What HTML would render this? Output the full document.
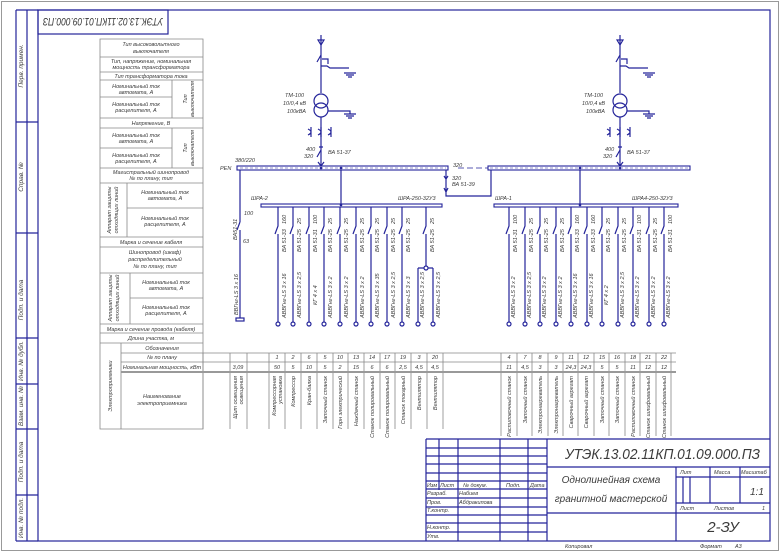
<!DOCTYPE html>
<html><head><meta charset="utf-8"><style>
html,body{margin:0;padding:0;background:#fff;}
svg{display:block;}
text{font-family:"Liberation Sans",sans-serif;font-style:italic;fill:#3a3a3a;}
.b{stroke:#24249a;fill:none;stroke-width:1.2;}
.g{stroke:#888;fill:none;stroke-width:0.8;}
.s{font-size:5.5px;}
.m{font-size:6.5px;}
</style></head><body>
<svg width="780" height="552" viewBox="0 0 780 552" xmlns="http://www.w3.org/2000/svg">
<rect x="1.5" y="1.5" width="777" height="549" fill="none" stroke="#999" stroke-width="1"/>
<rect x="38" y="10" width="732" height="531" class="b"/>
<path class="b" d="M16 10V233M27 10V233M16 10H38M16 122H38M16 233H38M16 233V541M27 233V541M16 338H38M16 384H38M16 429H38M16 495H38M16 541H38"/>
<g class="m">
<text transform="rotate(-90 23 66)" x="23" y="66" text-anchor="middle">Перв. примен.</text>
<text transform="rotate(-90 23 177)" x="23" y="177" text-anchor="middle">Справ. №</text>
<text transform="rotate(-90 23 300)" x="23" y="300" text-anchor="middle">Подп. и дата</text>
<text transform="rotate(-90 23 361)" x="23" y="361" text-anchor="middle">Инв. № дубл.</text>
<text transform="rotate(-90 23 406)" x="23" y="406" text-anchor="middle">Взам. инв. №</text>
<text transform="rotate(-90 23 462)" x="23" y="462" text-anchor="middle">Подп. и дата</text>
<text transform="rotate(-90 23 518)" x="23" y="518" text-anchor="middle">Инв. № подл.</text>
</g>
<rect x="38" y="10" width="130" height="24" class="b"/>
<text transform="rotate(180 103 22)" x="103" y="26" text-anchor="middle" font-size="11" textLength="120" lengthAdjust="spacingAndGlyphs">УТЭК.13.02.11КП.01.09.000.ПЗ</text>

<g class="g">
<path d="M100 39H203V429H100Z"/>
<path d="M100 57H203M100 72H203M100 80H203M100 97H172M100 118H203M100 128H203M100 148H172M100 168H203M100 183H203M127 208H203M100 237H203M100 247H203M100 273H203M130 298H203M100 324H203M100 333H203M100 343H203M121 353H676M121 362H676"/>
<path d="M172 80V118M172 128V168M127 183V237M130 273V324M121 343V429"/>
<path d="M203 353V429M230 353V429M247 353V429M269 353V429M285 353V429M301 353V429M317 353V429M333 353V429M348 353V429M364 353V429M380 353V429M395 353V429M411 353V429M427 353V429M443 353V429M501 353V436M517 353V436M532 353V436M548 353V436M563 353V436M578 353V436M594 353V436M609 353V436M625 353V436M640 353V436M656 353V436M671 353V436"/>
</g>
<path d="M121 372H676" stroke="#999" stroke-width="2"/>
<g class="s" text-anchor="middle">
<text x="151" y="46">Тип высоковольтного</text><text x="151" y="53">выключателя</text>
<text x="151" y="63">Тип, напряжение, номинальная</text><text x="151" y="69">мощность трансформатора</text>
<text x="151" y="78">Тип трансформатора тока</text>
<text x="136" y="88">Номинальный ток</text><text x="136" y="94">автомата, А</text>
<text x="136" y="106">Номинальный ток</text><text x="136" y="112">расцепителя, А</text>
<text x="151" y="125">Напряжение, В</text>
<text x="136" y="137">Номинальный ток</text><text x="136" y="143">автомата, А</text>
<text x="136" y="157">Номинальный ток</text><text x="136" y="163">расцепителя, А</text>
<text transform="rotate(-90 187 99)" x="187" y="99">Тип</text><text transform="rotate(-90 194 99)" x="194" y="99">выключателя</text>
<text transform="rotate(-90 187 148)" x="187" y="148">Тип</text><text transform="rotate(-90 194 148)" x="194" y="148">выключателя</text>
<text x="151" y="174">Магистральный шинопровод</text><text x="151" y="180">№ по плану, тип</text>
<text x="165" y="194">Номинальный ток</text><text x="165" y="200">автомата, А</text>
<text x="165" y="220">Номинальный ток</text><text x="165" y="226">расцепителя, А</text>
<text transform="rotate(-90 111 210)" x="111" y="210">Аппарат защиты</text><text transform="rotate(-90 118 210)" x="118" y="210">отходящих линий</text>
<text x="151" y="244">Марка и сечение кабеля</text>
<text x="155" y="254">Шинопровод (шкаф)</text><text x="155" y="261">распределительный</text><text x="155" y="268">№ по плану, тип</text>
<text x="166" y="284">Номинальный ток</text><text x="166" y="290">автомата, А</text>
<text x="166" y="309">Номинальный ток</text><text x="166" y="315">расцепителя, А</text>
<text transform="rotate(-90 112 298)" x="112" y="298">Аппарат защиты</text><text transform="rotate(-90 119 298)" x="119" y="298">отходящих линий</text>
<text x="151" y="331">Марка и сечение провода (кабеля)</text>
<text x="151" y="340">Длина участка, м</text>
<text x="162" y="350">Обозначения</text>
<text x="162" y="359">№ по плану</text>
<text x="162" y="369">Номинальная мощность, кВт</text>
<text x="162" y="398">Наименование</text><text x="162" y="405">электроприемника</text>
<text transform="rotate(-90 112 386)" x="112" y="386">Электроприемники</text>
</g>
<g class="s" text-anchor="middle">
<text x="277" y="359">1</text><text x="293" y="359">2</text><text x="309" y="359">6</text><text x="325" y="359">5</text><text x="340" y="359">10</text><text x="356" y="359">13</text><text x="372" y="359">14</text><text x="387" y="359">17</text><text x="403" y="359">19</text><text x="419" y="359">3</text><text x="435" y="359">20</text>
<text x="238" y="369">3,09</text>
<text x="277" y="369">50</text><text x="293" y="369">5</text><text x="309" y="369">10</text><text x="325" y="369">5</text><text x="340" y="369">2</text><text x="356" y="369">15</text><text x="372" y="369">6</text><text x="387" y="369">6</text><text x="403" y="369">2,5</text><text x="419" y="369">4,5</text><text x="435" y="369">4,5</text>
<text x="509" y="359">4</text><text x="525" y="359">7</text><text x="540" y="359">8</text><text x="556" y="359">9</text><text x="571" y="359">11</text><text x="586" y="359">12</text><text x="602" y="359">15</text><text x="617" y="359">16</text><text x="633" y="359">18</text><text x="648" y="359">21</text><text x="664" y="359">22</text>
<text x="509" y="369">11</text><text x="525" y="369">4,5</text><text x="540" y="369">3</text><text x="556" y="369">3</text><text x="571" y="369">24,3</text><text x="586" y="369">24,3</text><text x="602" y="369">5</text><text x="617" y="369">5</text><text x="633" y="369">11</text><text x="648" y="369">12</text><text x="664" y="369">12</text>
</g>
<g class="s" text-anchor="end">
<text transform="rotate(-90 237 376)" x="237" y="376">Щит освещения</text><text transform="rotate(-90 243 376)" x="243" y="376">освещения</text>
<text transform="rotate(-90 276 376)" x="276" y="376">Компрессорная</text><text transform="rotate(-90 282 376)" x="282" y="376">установка</text>
<text transform="rotate(-90 295 376)" x="295" y="376">Компрессор</text>
<text transform="rotate(-90 311 376)" x="311" y="376">Кран-балка</text>
<text transform="rotate(-90 327 376)" x="327" y="376">Заточный станок</text>
<text transform="rotate(-90 342 376)" x="342" y="376">Горн электрический</text>
<text transform="rotate(-90 358 376)" x="358" y="376">Наждачный станок</text>
<text transform="rotate(-90 374 376)" x="374" y="376">Станок полировальный</text>
<text transform="rotate(-90 389 376)" x="389" y="376">Станок полировальный</text>
<text transform="rotate(-90 405 376)" x="405" y="376">Станок токарный</text>
<text transform="rotate(-90 421 376)" x="421" y="376">Вентилятор</text>
<text transform="rotate(-90 437 376)" x="437" y="376">Вентилятор</text>
<text transform="rotate(-90 511 376)" x="511" y="376">Распиловочный станок</text>
<text transform="rotate(-90 527 376)" x="527" y="376">Заточный станок</text>
<text transform="rotate(-90 542 376)" x="542" y="376">Электронагреватель</text>
<text transform="rotate(-90 558 376)" x="558" y="376">Электронагреватель</text>
<text transform="rotate(-90 573 376)" x="573" y="376">Сварочный агрегат</text>
<text transform="rotate(-90 588 376)" x="588" y="376">Сварочный агрегат</text>
<text transform="rotate(-90 604 376)" x="604" y="376">Заточный станок</text>
<text transform="rotate(-90 619 376)" x="619" y="376">Заточный станок</text>
<text transform="rotate(-90 635 376)" x="635" y="376">Распиловочный станок</text>
<text transform="rotate(-90 650 376)" x="650" y="376">Станок шлифовальный</text>
<text transform="rotate(-90 666 376)" x="666" y="376">Станок шлифовальный</text>
</g>

<g class="b">
<path d="M321 35V93M321 117V168M321 55L317 62M322 59H328V64M321 66H327L330 68H349M344 73H356M346 75H354M348 77H352M328 111H350V114M344 114H356M346 116H354M348 118H352"/>
<circle cx="321" cy="101" r="7"/><circle cx="321" cy="110" r="7"/>
<path d="M318 40L321 45L324 40ZM319 147H323M321 150L317 157M318 162L321 166L324 162"/>
<path d="M311 127V137M308 129Q314 132 308 135M321 127V137M318 129Q324 132 318 135M331 127V137M328 129Q334 132 328 135"/>
<path d="M620 35V93M620 117V168M620 55L616 62M621 59H627V64M620 66H626L629 68H648M643 73H655M645 75H653M647 77H651M627 111H649V114M643 114H655M645 116H653M647 118H651"/>
<circle cx="620" cy="101" r="7"/><circle cx="620" cy="110" r="7"/>
<path d="M617 40L620 45L623 40ZM618 147H622M620 150L616 157M617 162L620 166L623 162"/>
<path d="M610 127V137M607 129Q613 132 607 135M620 127V137M617 129Q623 132 617 135M630 127V137M627 129Q633 132 627 135"/>
</g>
<g class="s">
<text x="285" y="97">ТМ-100</text><text x="283" y="105">10/0,4 кВ</text><text x="287" y="113">100кВА</text>
<text x="306" y="151">400</text><text x="304" y="158">320</text><text x="328" y="154">ВА 51-37</text>
<text x="584" y="97">ТМ-100</text><text x="582" y="105">10/0,4 кВ</text><text x="586" y="113">100кВА</text>
<text x="605" y="151">400</text><text x="603" y="158">320</text><text x="627" y="154">ВА 51-37</text>
<text x="235" y="162">380/220</text><text x="220" y="170">PEN</text>
<text x="453" y="167">320</text><text x="452" y="180">320</text><text x="452" y="186">ВА 51-39</text>
<text x="251" y="200">ШРА-2</text><text x="398" y="200">ШРА-250-32У3</text>
<text x="495" y="200">ШРА-1</text><text x="632" y="200">ШРА4-250-32У3</text>
</g>
<rect x="237" y="166" width="211" height="4" fill="#fff" stroke="#24249a" stroke-width="1.1"/>
<rect x="488" y="166" width="202" height="4" fill="#fff" stroke="#24249a" stroke-width="1.1"/>
<path d="M240 168H446M490 168H688" stroke="#24249a" stroke-width="0.6" stroke-dasharray="3,2"/>
<path d="M458 168H488" stroke="#24249a" stroke-width="0.8" stroke-dasharray="6,3"/>
<rect x="261" y="204" width="181" height="3" fill="#fff" stroke="#24249a" stroke-width="1.1"/>
<rect x="494" y="204" width="184" height="3" fill="#fff" stroke="#24249a" stroke-width="1.1"/>
<g class="b">
<path d="M341 170V204M580 170V204M446 170V196H491V170M444 176L446 179L448 176M444 188L446 192L448 188"/>
<path d="M240 170V222M240 222L237 230M240 230V318"/><rect x="236" y="318" width="8" height="3"/>
</g>
<circle cx="341" cy="168" r="1.3" fill="#24249a"/><circle cx="321" cy="168" r="1.3" fill="#24249a"/><circle cx="620" cy="168" r="1.3" fill="#24249a"/><circle cx="580" cy="168" r="1.3" fill="#24249a"/><circle cx="341" cy="205" r="1.3" fill="#24249a"/><circle cx="580" cy="205" r="1.3" fill="#24249a"/>
<g class="s">
<text x="244" y="215">100</text><text transform="rotate(-90 237 240)" x="237" y="240">ВА51-31</text><text x="243" y="243">63</text>
<text transform="rotate(-90 238 315)" x="238" y="315">ВВГнг-LS 3 x 16</text>
</g>
<g class="b">
<path d="M278 207V226L275 234M278 234V322M293 207V226L290 234M293 234V322M309 207V226L306 234M309 234V322M324 207V226L321 234M324 234V322M340 207V226L337 234M340 234V322M356 207V226L353 234M356 234V322M371 207V226L368 234M371 234V322M387 207V226L384 234M387 234V322M402 207V226L399 234M402 234V322M426 207V226L423 234M426 234V268M418 268H433M418 268V322M433 268V322"/>
<path d="M509 207V226L506 234M509 234V322M525 207V226L522 234M525 234V322M540 207V226L537 234M540 234V322M556 207V226L553 234M556 234V322M571 207V226L568 234M571 234V322M587 207V226L584 234M587 234V322M602 207V226L599 234M602 234V322M618 207V226L615 234M618 234V322M633 207V226L630 234M633 234V322M649 207V226L646 234M649 234V322M664 207V226L661 234M664 234V322"/>
<g fill="#fff">
<circle cx="278" cy="324" r="2"/><circle cx="293" cy="324" r="2"/><circle cx="309" cy="324" r="2"/><circle cx="324" cy="324" r="2"/><circle cx="340" cy="324" r="2"/><circle cx="356" cy="324" r="2"/><circle cx="371" cy="324" r="2"/><circle cx="387" cy="324" r="2"/><circle cx="402" cy="324" r="2"/><circle cx="418" cy="324" r="2"/><circle cx="433" cy="324" r="2"/><circle cx="426" cy="268" r="2"/>
<circle cx="509" cy="324" r="2"/><circle cx="525" cy="324" r="2"/><circle cx="540" cy="324" r="2"/><circle cx="556" cy="324" r="2"/><circle cx="571" cy="324" r="2"/><circle cx="587" cy="324" r="2"/><circle cx="602" cy="324" r="2"/><circle cx="618" cy="324" r="2"/><circle cx="633" cy="324" r="2"/><circle cx="649" cy="324" r="2"/><circle cx="664" cy="324" r="2"/>
</g>
</g>
<g class="s">
<text transform="rotate(-90 286 224)" x="286" y="224">160</text><text transform="rotate(-90 286 252)" x="286" y="252">ВА 51-33</text>
<text transform="rotate(-90 301 224)" x="301" y="224">25</text><text transform="rotate(-90 301 252)" x="301" y="252">ВА 51-25</text>
<text transform="rotate(-90 317 224)" x="317" y="224">100</text><text transform="rotate(-90 317 252)" x="317" y="252">ВА 51-31</text>
<text transform="rotate(-90 332 224)" x="332" y="224">25</text><text transform="rotate(-90 332 252)" x="332" y="252">ВА 51-25</text>
<text transform="rotate(-90 348 224)" x="348" y="224">25</text><text transform="rotate(-90 348 252)" x="348" y="252">ВА 51-25</text>
<text transform="rotate(-90 364 224)" x="364" y="224">25</text><text transform="rotate(-90 364 252)" x="364" y="252">ВА 51-25</text>
<text transform="rotate(-90 379 224)" x="379" y="224">25</text><text transform="rotate(-90 379 252)" x="379" y="252">ВА 51-25</text>
<text transform="rotate(-90 395 224)" x="395" y="224">25</text><text transform="rotate(-90 395 252)" x="395" y="252">ВА 51-25</text>
<text transform="rotate(-90 410 224)" x="410" y="224">25</text><text transform="rotate(-90 410 252)" x="410" y="252">ВА 51-25</text>
<text transform="rotate(-90 434 224)" x="434" y="224">25</text><text transform="rotate(-90 434 252)" x="434" y="252">ВА 51-25</text>
<text transform="rotate(-90 517 224)" x="517" y="224">100</text><text transform="rotate(-90 517 252)" x="517" y="252">ВА 51-31</text>
<text transform="rotate(-90 533 224)" x="533" y="224">25</text><text transform="rotate(-90 533 252)" x="533" y="252">ВА 51-25</text>
<text transform="rotate(-90 548 224)" x="548" y="224">25</text><text transform="rotate(-90 548 252)" x="548" y="252">ВА 51-25</text>
<text transform="rotate(-90 564 224)" x="564" y="224">25</text><text transform="rotate(-90 564 252)" x="564" y="252">ВА 51-25</text>
<text transform="rotate(-90 579 224)" x="579" y="224">160</text><text transform="rotate(-90 579 252)" x="579" y="252">ВА 51-33</text>
<text transform="rotate(-90 595 224)" x="595" y="224">160</text><text transform="rotate(-90 595 252)" x="595" y="252">ВА 51-33</text>
<text transform="rotate(-90 610 224)" x="610" y="224">25</text><text transform="rotate(-90 610 252)" x="610" y="252">ВА 51-25</text>
<text transform="rotate(-90 626 224)" x="626" y="224">25</text><text transform="rotate(-90 626 252)" x="626" y="252">ВА 51-25</text>
<text transform="rotate(-90 641 224)" x="641" y="224">100</text><text transform="rotate(-90 641 252)" x="641" y="252">ВА 51-31</text>
<text transform="rotate(-90 657 224)" x="657" y="224">25</text><text transform="rotate(-90 657 252)" x="657" y="252">ВА 51-25</text>
<text transform="rotate(-90 672 224)" x="672" y="224">100</text><text transform="rotate(-90 672 252)" x="672" y="252">ВА 51-31</text>
<text transform="rotate(-90 286 318)" x="286" y="318">АВВГнг-LS 3 x 16</text>
<text transform="rotate(-90 301 318)" x="301" y="318">АВВГнг-LS 3 x 2,5</text>
<text transform="rotate(-90 317 305)" x="317" y="305">КГ 4 x 4</text>
<text transform="rotate(-90 332 318)" x="332" y="318">АВВГнг-LS 3 x 2</text>
<text transform="rotate(-90 348 318)" x="348" y="318">АВВГнг-LS 3 x 2</text>
<text transform="rotate(-90 364 318)" x="364" y="318">АВВГнг-LS 3 x 2</text>
<text transform="rotate(-90 379 318)" x="379" y="318">АВВГнг-LS 3 x 35</text>
<text transform="rotate(-90 395 318)" x="395" y="318">АВВГнг-LS 3 x 2,5</text>
<text transform="rotate(-90 410 318)" x="410" y="318">АВВГнг-LS 3 x 3</text>
<text transform="rotate(-90 424 318)" x="424" y="318">АВВГнг-LS 3 x 2,5</text>
<text transform="rotate(-90 440 318)" x="440" y="318">АВВГнг-LS 3 x 2,5</text>
<text transform="rotate(-90 515 318)" x="515" y="318">АВВГнг-LS 3 x 2</text>
<text transform="rotate(-90 531 318)" x="531" y="318">АВВГнг-LS 3 x 2,5</text>
<text transform="rotate(-90 546 318)" x="546" y="318">АВВГнг-LS 3 x 2</text>
<text transform="rotate(-90 562 318)" x="562" y="318">АВВГнг-LS 3 x 2</text>
<text transform="rotate(-90 577 318)" x="577" y="318">АВВГнг-LS 3 x 16</text>
<text transform="rotate(-90 593 318)" x="593" y="318">АВВГнг-LS 3 x 16</text>
<text transform="rotate(-90 608 305)" x="608" y="305">КГ 4 x 2</text>
<text transform="rotate(-90 624 318)" x="624" y="318">АВВГнг-LS 3 x 2,5</text>
<text transform="rotate(-90 639 318)" x="639" y="318">АВВГнг-LS 3 x 2</text>
<text transform="rotate(-90 655 318)" x="655" y="318">АВВГнг-LS 3 x 2</text>
<text transform="rotate(-90 670 318)" x="670" y="318">АВВГнг-LS 3 x 2</text>
</g>

<g class="b">
<path d="M426 439H770M426 439V541M547 439V541M439 439V490M458 439V541M500 439V541M528 439V541M426 448H547M426 456H547M426 464H547M426 473H547M426 481H547M426 489H547M426 498H547M426 507H547M426 515H547M426 523H547M426 532H547M547 467H770M676 477H770M676 467V541M547 513H770M676 503H770M683 477V503M690 477V503M710 467V503M740 503V477M740 467V477"/>
</g>
<text x="565" y="459" font-size="15" textLength="195" lengthAdjust="spacingAndGlyphs">УТЭК.13.02.11КП.01.09.000.ПЗ</text>
<text x="611" y="483" text-anchor="middle" font-size="10">Однолинейная схема</text>
<text x="611" y="502" text-anchor="middle" font-size="10">гранитной мастерской</text>
<g class="s">
<text x="680" y="474">Лит</text><text x="714" y="474">Масса</text><text x="741" y="474">Масштаб</text>
<text x="680" y="510">Лист</text><text x="714" y="510">Листов</text><text x="762" y="510">1</text>
<text x="427" y="487">Изм</text><text x="440" y="487">Лист</text><text x="463" y="487">№ докум.</text><text x="506" y="487">Подп.</text><text x="530" y="487">Дата</text>
<text x="427" y="495">Разраб.</text><text x="459" y="495">Набиев</text>
<text x="427" y="504">Пров.</text><text x="459" y="504">Абдракипова</text>
<text x="427" y="512">Т.контр.</text>
<text x="427" y="529">Н.контр.</text>
<text x="427" y="538">Утв.</text>
<text x="565" y="548">Копировал</text><text x="700" y="548">Формат</text><text x="735" y="548">А3</text>
</g>
<text x="750" y="495" font-size="10">1:1</text>
<text x="723" y="532" text-anchor="middle" font-size="15">2-ЗУ</text>
</svg>
</body></html>
